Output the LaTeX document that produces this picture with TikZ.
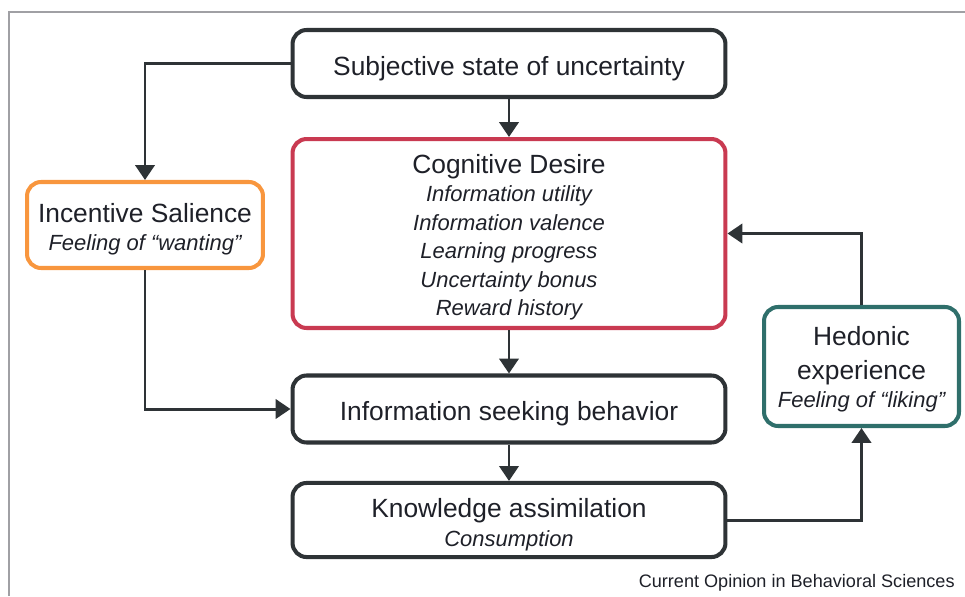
\documentclass[tikz,border=0pt]{standalone}
\usepackage{fontspec}
\setmainfont{Liberation Sans}
\setsansfont{Liberation Sans}
\usepackage{xcolor}
\usepackage{tikz}
\usetikzlibrary{calc}
\usetikzlibrary{arrows.meta}
\definecolor{cd-dark}{RGB}{46, 51, 54}
\definecolor{cd-text}{RGB}{30, 32, 40}
\definecolor{cd-orange}{RGB}{248, 150, 62}
\definecolor{cd-red}{RGB}{201, 58, 81}
\definecolor{cd-teal}{RGB}{47, 111, 107}
\definecolor{cd-frame}{RGB}{160, 160, 164}
\newcommand{\detail}[1]{{\fontsize{12.5}{16}\selectfont\itshape #1}}
\newcommand{\strutto}[1]{\rule{0pt}{#1}}

\begin{document}
\begin{tikzpicture}[x = 0.02cm, y = -0.02cm,
    box/.style = {draw, line width = 2.3pt, rounded corners = 8pt, align = center,
      text = cd-text, font = \fontsize{15}{16}\selectfont},
    flow/.style = {line width = 1.7pt, cd-dark, -{Triangle[length = 8.5pt, width = 11pt]}}]
  \useasboundingbox (0, 0) rectangle (965, 596);
  \draw[line width = 1.1pt, cd-frame] (9, 596) -- (9, 12) -- (965, 12);

  % main column
  \node[box, draw = cd-dark, minimum width = 8.66cm, minimum height = 1.34cm] (subj) at (509, 63.5)
    {\strutto{17.3pt}Subjective state of uncertainty};
  \node[box, draw = cd-red, minimum width = 8.66cm, minimum height = 3.78cm,
      font = \fontsize{15}{16.2}\selectfont] (cog) at (509, 233.5)
    {\strutto{14.9pt}Cognitive Desire\\
     \detail{Information utility}\\
     \detail{Information valence}\\
     \detail{Learning progress}\\
     \detail{Uncertainty bonus}\\
     \detail{Reward history}};
  \node[box, draw = cd-dark, minimum width = 8.66cm, minimum height = 1.34cm] (seek) at (509, 409)
    {\strutto{16.4pt}Information seeking behavior};
  \node[box, draw = cd-dark, minimum width = 8.66cm, minimum height = 1.36cm,
      font = \fontsize{15}{16.5}\selectfont] (know) at (509, 520)
    {\strutto{16.4pt}Knowledge assimilation\\ \detail{Consumption}};

  % side boxes
  \node[box, draw = cd-orange, minimum width = 4.72cm, minimum height = 1.72cm,
      font = \fontsize{15}{15.9}\selectfont] (incent) at (145, 225)
    {\strutto{16.2pt}Incentive Salience\\ \detail{Feeling of “wanting”}};
  \node[box, draw = cd-teal, minimum width = 3.9cm, minimum height = 2.38cm] (hedon) at (861.5, 366.5)
    {\strutto{13.8pt}Hedonic\\[3.4pt] experience\\ \detail{Feeling of “liking”}};

  % connectors
  \draw[flow] (subj) -- (cog);
  \draw[flow] (cog) -- (seek);
  \draw[flow] (seek) -- (know);
  \draw[flow] (subj.west) -| (incent.north);
  \draw[flow] (incent.south) |- (seek.west);
  \draw[flow] (know.east) -| (hedon.south);
  \draw[flow] (hedon.north) |- (cog.east);

  \node[anchor = base east, text = cd-text, font = \fontsize{10.3}{12}\selectfont, inner sep = 0pt]
    (credit) at (955, 587) {Current Opinion in Behavioral Sciences};
\end{tikzpicture}
\end{document}
